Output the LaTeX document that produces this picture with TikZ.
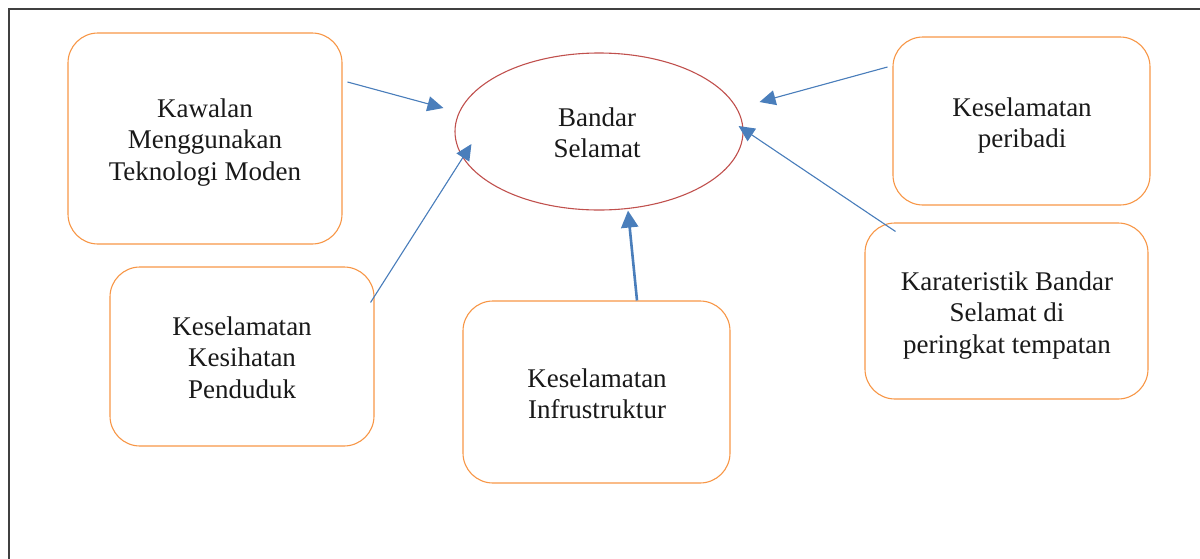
\documentclass[tikz,border=0pt]{standalone}
\usepackage{fontspec}
\setmainfont{Liberation Serif}
\usetikzlibrary{shapes.geometric,arrows.meta}
\definecolor{boxorange}{HTML}{F79646}
\definecolor{ellred}{HTML}{C0504D}
\definecolor{arrblue}{HTML}{4A7EBB}
\begin{document}
\begin{tikzpicture}[x=1pt,y=-1pt,
  box/.style={draw=boxorange,line width=1.1pt,rounded corners=30pt,inner sep=0pt},
  txt/.style={anchor=north,align=center,inner sep=0pt,text=black!90,font=\fontsize{27}{31.3}\selectfont},
  arr/.style={draw=arrblue,line width=1.1pt,-{Triangle[length=16pt,width=15pt]},fill=arrblue},
  arrthick/.style={arr,line width=2.6pt,-{Triangle[length=17pt,width=17pt]}}]
\useasboundingbox (0,0) rectangle (1200,558);
% frame
\draw[black!75,line width=1.3pt] (9,560) -- (9,9) -- (1202,9);
% central ellipse
\node[ellipse,draw=ellred,line width=1.1pt,minimum width=288pt,minimum height=157pt,inner sep=0pt] (ell) at (599,131.5) {};
\node[txt] (tell) at (597,107.6) {Bandar\\Selamat};
% boxes
\node[box,minimum width=274pt,minimum height=211pt] (b1) at (205,138.5) {};
\node[txt] (t1) at (205,98.6) {Kawalan\\Menggunakan\\Teknologi Moden};
\node[box,minimum width=257pt,minimum height=168pt] (b2) at (1021.5,121) {};
\node[txt] (t2) at (1022,97.6) {Keselamatan\\peribadi};
\node[box,minimum width=283pt,minimum height=176pt] (b3) at (1006.5,311) {};
\node[txt] (t3) at (1007,271.6) {Karateristik Bandar\\Selamat di\\peringkat tempatan};
\node[box,minimum width=264pt,minimum height=179pt] (b4) at (242,356.5) {};
\node[txt] (t4) at (242,316.6) {Keselamatan\\Kesihatan\\Penduduk};
\node[box,minimum width=267pt,minimum height=182pt] (b5) at (596.5,392) {};
\node[txt] (t5) at (597,368.6) {Keselamatan\\Infrustruktur};
% connectors
\draw[arr] ([shift={(5,-56.5)}]b1.east) -- ([shift={(-11,-23.5)}]ell.west);
\draw[arr] ([shift={(-4,36)}]b4.north east) -- ([shift={(17,12.5)}]ell.west);
\draw[arrthick] ([shift={(40.5,0)}]b5.north) -- ([shift={(29,0)}]ell.south);
\draw[arr] ([shift={(-5,-54)}]b2.west) -- ([shift={(16,-29.5)}]ell.east);
\draw[arr] ([shift={(31,9)}]b3.north west) -- ([shift={(-5,-5.5)}]ell.east);
\end{tikzpicture}
\end{document}
